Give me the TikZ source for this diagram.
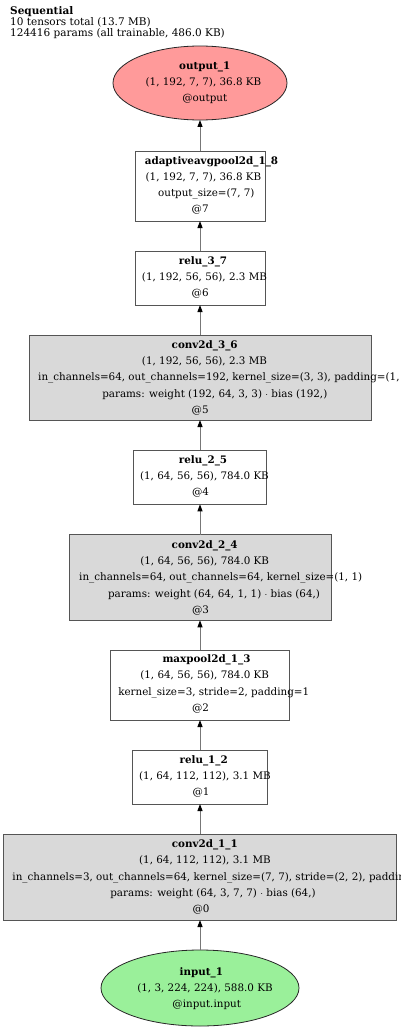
\documentclass[tikz,border=0pt]{standalone}
\usepackage{fontspec}
\setmainfont{DejaVu Serif}
\usetikzlibrary{arrows.meta}
\definecolor{boxline}{HTML}{555555}
\definecolor{edgeline}{HTML}{777777}
\definecolor{convfill}{HTML}{D9D9D9}
\definecolor{outfill}{HTML}{FF9A9A}
\definecolor{infill}{HTML}{9AF09A}
\tikzset{
  lbl/.style={inner sep=0pt, anchor=base, font=\fontsize{10.35}{12}\selectfont},
  lbll/.style={lbl, anchor=base west},
  hdrtxt/.style={inner sep=0pt, anchor=base west, font=\fontsize{10.5}{12}\selectfont},
  plainbox/.style={draw=boxline, line width=0.9pt, fill=white},
  convbox/.style={draw=boxline, line width=0.9pt, fill=convfill},
  ell/.style={draw=black!85, line width=0.8pt},
  edge/.style={draw=edgeline, line width=1pt, -{Triangle[length=7pt,width=5pt,fill=black,color=black]}},
}
\newcommand\tline[5][lbl]{\node[#1] (#2) at (#3,#4) {#5};}
\begin{document}
\begin{tikzpicture}[x=1pt,y=-1pt]
\useasboundingbox (0,0) rectangle (400,1030);
\clip (0,0) rectangle (400,1030);
\fill[white] (0,0) rectangle (400,1030);
% header
\tline[hdrtxt]{h1}{10}{14.3}{\textbf{Sequential}}
\tline[hdrtxt]{h2}{10}{25.6}{10 tensors total (13.7 MB)}
\tline[hdrtxt]{h3}{10}{36.8}{124416 params (all trainable, 486.0 KB)}
% shapes
\draw[ell, fill=outfill] (200,83) ellipse [x radius=87, y radius=37];
\draw[plainbox] (135,151) rectangle (265,221);
\draw[plainbox] (135,251) rectangle (265,305);
\draw[convbox] (29,335) rectangle (371,420);
\draw[plainbox] (133.3,450.3) rectangle (266.7,504.3);
\draw[convbox] (69,534.7) rectangle (331,620.3);
\draw[plainbox] (110.3,650.3) rectangle (289.7,720);
\draw[plainbox] (132.3,750) rectangle (267.7,804);
\draw[convbox] (3.3,834) rectangle (396.7,920);
\draw[ell, fill=infill] (200,988) ellipse [x radius=99, y radius=38];
% output_1
\tline{o1}{204.7}{69.4}{\textbf{output\_1}}
\tline{o2}{203.5}{85.7}{(1, 192, 7, 7), 36.8 KB}
\tline{o3}{204.8}{102.0}{@output}
% adaptiveavgpool2d_1_8
\tline{p1}{211.5}{164.0}{\textbf{adaptiveavgpool2d\_1\_8}}
\tline{p2}{203.5}{180.3}{(1, 192, 7, 7), 36.8 KB}
\tline{p3}{206.3}{196.6}{output\_size=(7, 7)}
\tline{p4}{200.2}{212.9}{@7}
% relu_3_7
\tline{a1}{203.0}{264.0}{\textbf{relu\_3\_7}}
\tline{a2}{204.5}{280.3}{(1, 192, 56, 56), 2.3 MB}
\tline{a3}{200.2}{296.6}{@6}
% conv2d_3_6
\tline{b1}{204.7}{348.3}{\textbf{conv2d\_3\_6}}
\tline{b2}{204.5}{364.6}{(1, 192, 56, 56), 2.3 MB}
\tline[lbll]{b3}{38}{380.9}{in\_channels=64, out\_channels=192, kernel\_size=(3, 3), padding=(1, 1)}
\tline{b4}{214.8}{397.2}{params: weight (192, 64, 3, 3) $\cdot$ bias (192,)}
\tline{b5}{200.2}{413.5}{@5}
% relu_2_5
\tline{c1}{203.0}{463.3}{\textbf{relu\_2\_5}}
\tline{c2}{204.5}{479.6}{(1, 64, 56, 56), 784.0 KB}
\tline{c3}{200.5}{495.9}{@4}
% conv2d_2_4
\tline{d1}{204.7}{548.3}{\textbf{conv2d\_2\_4}}
\tline{d2}{204.7}{564.6}{(1, 64, 56, 56), 784.0 KB}
\tline{d3}{220.7}{580.9}{in\_channels=64, out\_channels=64, kernel\_size=(1, 1)}
\tline{d4}{214.0}{597.2}{params: weight (64, 64, 1, 1) $\cdot$ bias (64,)}
\tline{d5}{200.5}{613.5}{@3}
% maxpool2d_1_3
\tline{e1}{206.5}{662.6}{\textbf{maxpool2d\_1\_3}}
\tline{e2}{204.7}{678.9}{(1, 64, 56, 56), 784.0 KB}
\tline{e3}{213.7}{695.2}{kernel\_size=3, stride=2, padding=1}
\tline{e4}{200.5}{711.5}{@2}
% relu_1_2
\tline{f1}{203.7}{763.3}{\textbf{relu\_1\_2}}
\tline{f2}{205.0}{779.6}{(1, 64, 112, 112), 3.1 MB}
\tline{f3}{201.0}{795.9}{@1}
% conv2d_1_1
\tline{g1}{204.8}{847.6}{\textbf{conv2d\_1\_1}}
\tline{g2}{205.0}{863.9}{(1, 64, 112, 112), 3.1 MB}
\tline[lbll]{g3}{12.3}{880.2}{in\_channels=3, out\_channels=64, kernel\_size=(7, 7), stride=(2, 2), padding=(3, 3)}
\tline{g4}{213.0}{896.5}{params: weight (64, 3, 7, 7) $\cdot$ bias (64,)}
\tline{g5}{201.0}{912.8}{@0}
% input_1
\tline{i1}{201.4}{975.0}{\textbf{input\_1}}
\tline{i2}{205.0}{991.3}{(1, 3, 224, 224), 588.0 KB}
\tline{i3}{206.7}{1007.6}{@input.input}
% anchor coordinates
\coordinate (outB) at (200,120);
\coordinate (poolT) at (200,151); \coordinate (poolB) at (200,221);
\coordinate (r37T) at (200,251); \coordinate (r37B) at (200,305);
\coordinate (c36T) at (200,335); \coordinate (c36B) at (200,420);
\coordinate (r25T) at (200,450.3); \coordinate (r25B) at (200,504.3);
\coordinate (c24T) at (200,534.7); \coordinate (c24B) at (200,620.3);
\coordinate (mpT) at (200,650.3); \coordinate (mpB) at (200,720);
\coordinate (r12T) at (200,750); \coordinate (r12B) at (200,804);
\coordinate (c11T) at (200,834); \coordinate (c11B) at (200,920);
\coordinate (inpT) at (200,950);
% edges
\draw[edge] (inpT) -- (c11B);
\draw[edge] (c11T) -- (r12B);
\draw[edge] (r12T) -- (mpB);
\draw[edge] (mpT) -- (c24B);
\draw[edge] (c24T) -- (r25B);
\draw[edge] (r25T) -- (c36B);
\draw[edge] (c36T) -- (r37B);
\draw[edge] (r37T) -- (poolB);
\draw[edge] (poolT) -- (outB);
\end{tikzpicture}
\end{document}
